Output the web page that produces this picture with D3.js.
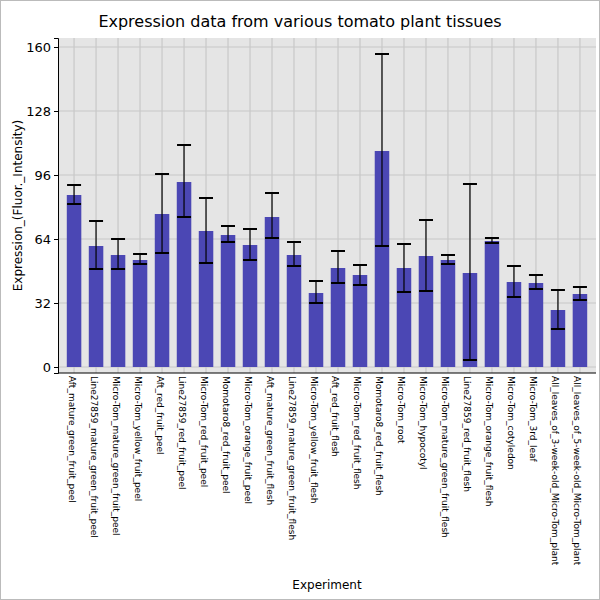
<!DOCTYPE html>
<html>
<head>
<meta charset="utf-8">
<script src="https://cdn.jsdelivr.net/npm/d3@7"></script>
<style>
  body { margin: 0; background: #fff; }
  text { font-family: "DejaVu Sans", sans-serif; }
</style>
</head>
<body>
<svg id="chart" width="600" height="600"></svg>
<script>
// tissue names along the x axis
var tissues = ["Aft_mature_green_fruit_peel", "Line27859_mature_green_fruit_peel", "Micro-Tom_mature_green_fruit_peel",
  "Micro-Tom_yellow_fruit_peel", "Aft_red_fruit_peel", "Line27859_red_fruit_peel", "Micro-Tom_red_fruit_peel",
  "Momotaro8_red_fruit_peel", "Micro-Tom_orange_fruit_peel", "Aft_mature_green_fruit_flesh",
  "Line27859_mature_green_fruit_flesh", "Micro-Tom_yellow_fruit_flesh", "Aft_red_fruit_flesh",
  "Micro-Tom_red_fruit_flesh", "Momotaro8_red_fruit_flesh", "Micro-Tom_root", "Micro-Tom_hypocotyl",
  "Micro-Tom_mature_green_fruit_flesh", "Line27859_red_fruit_flesh", "Micro-Tom_orange_fruit_flesh",
  "Micro-Tom_cotyledon", "Micro-Tom_3rd_leaf", "All_leaves_of_3-week-old_Micro-Tom_plant",
  "All_leaves_of_5-week-old_Micro-Tom_plant"];
var means = [86, 60.5, 56, 53.5, 76.5, 92.5, 68, 66, 61, 75, 56, 37, 49.5, 46, 108, 49.5, 55.5, 53.5, 47, 63, 42.5, 42, 28.5, 36.5];
var upper = [91, 73, 64, 56.5, 96.5, 111, 84.5, 70.5, 69, 87, 62.5, 43, 58, 51, 156.5, 61.5, 73.5, 56, 91.5, 64.5, 50.5, 46, 38.5, 40];
var lower = [81.5, 49, 49, 51.5, 57, 75, 52, 62.5, 53.5, 64.5, 50.5, 32, 42, 41, 60.5, 37.5, 38, 51.5, 3.5, 62, 35, 39, 19, 33.5];
var yTicks = [0, 32, 64, 96, 128, 160];

var svg = d3.select("#chart");
var pLeft = 58, pRight = 596, pTop = 38, pBottom = 373;

svg.append("rect").attr("x", 0.5).attr("y", 0.5).attr("width", 599).attr("height", 599)
  .attr("fill", "none").attr("stroke", "#bbb");

var x = d3.scaleBand().domain(tissues).range([pLeft, pRight]).paddingInner(0.34).paddingOuter(0.4);
var y = d3.scaleLinear().domain([-3, 164.5]).range([pBottom, pTop]);

svg.append("rect").attr("x", pLeft).attr("y", pTop).attr("width", pRight - pLeft).attr("height", pBottom - pTop)
  .attr("fill", "#e5e5e5");

// grid
svg.append("g").selectAll("line").data(yTicks).join("line")
  .attr("x1", pLeft).attr("x2", pRight).attr("y1", d => y(d)).attr("y2", d => y(d))
  .attr("stroke", "#c8c8c8").attr("stroke-width", 1.2);
svg.append("g").selectAll("line").data(tissues).join("line")
  .attr("x1", d => x(d) + x.bandwidth() / 2).attr("x2", d => x(d) + x.bandwidth() / 2)
  .attr("y1", pTop).attr("y2", pBottom).attr("stroke", "#c8c8c8").attr("stroke-width", 1.2);

// bars
svg.append("g").selectAll("rect").data(tissues).join("rect")
  .attr("x", d => x(d)).attr("width", x.bandwidth())
  .attr("y", (d, i) => y(means[i])).attr("height", (d, i) => y(0) - y(means[i]))
  .attr("fill", "#4b47b4");

// error bars
var eb = svg.append("g").attr("stroke", "#000").attr("stroke-width", 1.2);
tissues.forEach(function(d, i) {
  var cx = x(d) + x.bandwidth() / 2;
  eb.append("line").attr("x1", cx).attr("x2", cx).attr("y1", y(upper[i])).attr("y2", y(lower[i]));
  [upper[i], lower[i]].forEach(function(v) {
    eb.append("line").attr("x1", cx - 7).attr("x2", cx + 7).attr("y1", y(v)).attr("y2", y(v)).attr("stroke-width", 2);
  });
});

// axes
var yAxis = svg.append("g").attr("transform", "translate(" + pLeft + ",0)")
  .call(d3.axisLeft(y).tickValues(yTicks).tickSize(4));
yAxis.selectAll("text").attr("font-size", 13).attr("fill", "#000");
yAxis.select(".domain").attr("stroke", "#000");

svg.append("line").attr("x1", pLeft).attr("x2", pRight).attr("y1", pBottom).attr("y2", pBottom).attr("stroke", "#000");

svg.append("g").selectAll("text").data(tissues).join("text")
  .attr("transform", d => "translate(" + (x(d) + x.bandwidth() / 2 - 3) + "," + (pBottom + 3) + ") rotate(90)")
  .attr("font-size", 9).attr("dominant-baseline", "middle").text(d => d);

svg.append("text").attr("x", 300).attr("y", 27).attr("text-anchor", "middle")
  .attr("font-size", 16).text("Expression data from various tomato plant tissues");
svg.append("text").attr("x", 327).attr("y", 589).attr("text-anchor", "middle")
  .attr("font-size", 12).text("Experiment");
svg.append("text").attr("transform", "translate(22," + ((pTop + pBottom) / 2) + ") rotate(-90)")
  .attr("text-anchor", "middle").attr("font-size", 12).text("Expression_(Fluor._Intensity)");
</script>
</body>
</html>
